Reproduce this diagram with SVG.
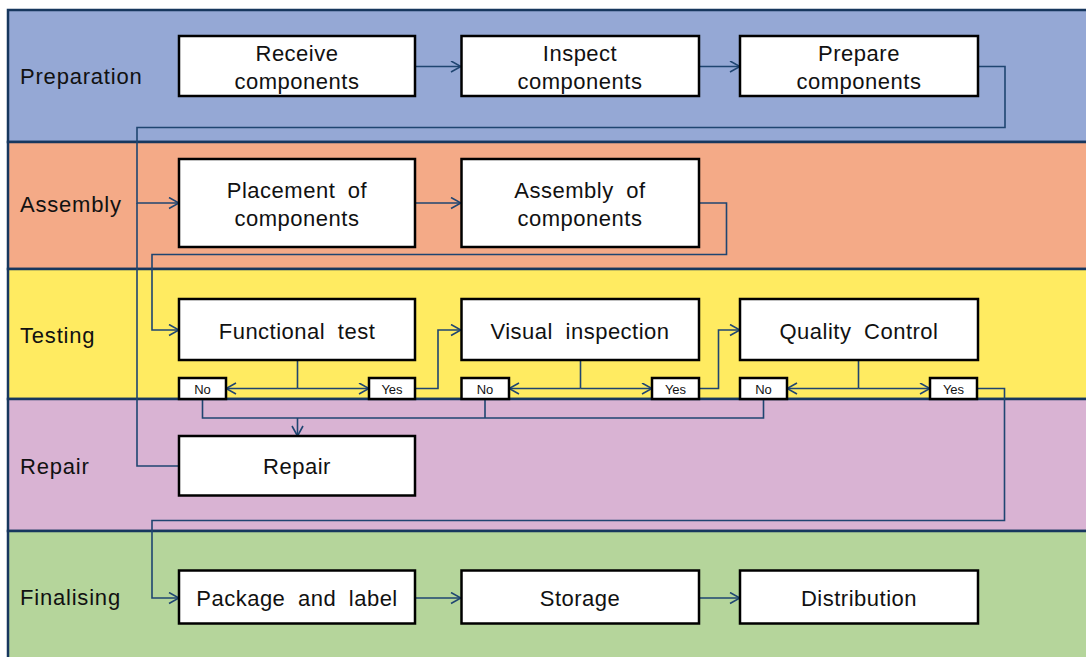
<svg xmlns="http://www.w3.org/2000/svg" width="1086" height="657" viewBox="0 0 1086 657">
  <style>
    .lane { stroke: #17375E; stroke-width: 2.5; }
    .lane-label { font-family: "Liberation Sans", Arial, sans-serif; font-size: 22px; letter-spacing: 0.8px; fill: #111; }
    .box { fill: #fff; stroke: #000; stroke-width: 2.5; }
    .box-text { font-family: "Liberation Sans", Arial, sans-serif; font-size: 22px; letter-spacing: 0.5px; fill: #111; text-anchor: middle; }
    .tag { fill: #fff; stroke: #000; stroke-width: 2.5; }
    .tag-text { font-family: "Liberation Sans", Arial, sans-serif; font-size: 13px; fill: #111; text-anchor: middle; }
    .conn { fill: none; stroke: #1F4571; stroke-width: 1.6; }
    .arrow { marker-end: url(#chev); }
  </style>
  <defs>
    <marker id="chev" markerUnits="userSpaceOnUse" markerWidth="12" markerHeight="13" refX="11" refY="6" orient="auto">
      <path d="M1,0.5 L11,6 L1,11.5" fill="none" stroke="#1F4571" stroke-width="1.6"/>
    </marker>
  </defs>

  <rect width="1086" height="657" fill="#fff"/>

  <!-- swimlanes -->
  <g id="lanes">
    <rect class="lane" x="8" y="10" width="1090" height="132" fill="#95A8D5"/>
    <rect class="lane" x="8" y="142" width="1090" height="127" fill="#F4AA87"/>
    <rect class="lane" x="8" y="269" width="1090" height="130" fill="#FFEB61"/>
    <rect class="lane" x="8" y="399" width="1090" height="132" fill="#D9B3D3"/>
    <rect class="lane" x="8" y="531" width="1090" height="140" fill="#B5D59B"/>
    <text class="lane-label" x="20" y="84">Preparation</text>
    <text class="lane-label" x="20" y="212">Assembly</text>
    <text class="lane-label" x="20" y="343">Testing</text>
    <text class="lane-label" x="20" y="474">Repair</text>
    <text class="lane-label" x="20" y="605">Finalising</text>
  </g>

  <!-- connectors -->
  <g id="connectors">
    <path class="conn arrow" d="M415,66.5 H461"/>
    <path class="conn arrow" d="M699,66.5 H740"/>
    <path class="conn arrow" d="M978,66.5 H1005 V127.5 H137 V203 H179"/>
    <path class="conn" d="M179,466 H137 V203"/>
    <path class="conn arrow" d="M415,203 H461"/>
    <path class="conn arrow" d="M699,203 H726.5 V254.5 H152 V330 H179"/>

    <path class="conn" d="M297.5,360 V388.5"/>
    <path class="conn arrow" d="M297.5,388.5 H226"/>
    <path class="conn arrow" d="M297.5,388.5 H369"/>
    <path class="conn arrow" d="M415,388.5 H438 V330 H461"/>

    <path class="conn" d="M580.5,360 V388.5"/>
    <path class="conn arrow" d="M580.5,388.5 H509"/>
    <path class="conn arrow" d="M580.5,388.5 H652"/>
    <path class="conn arrow" d="M699,388.5 H718.5 V330 H740"/>

    <path class="conn" d="M858.5,360 V388.5"/>
    <path class="conn arrow" d="M858.5,388.5 H787"/>
    <path class="conn arrow" d="M858.5,388.5 H930"/>
    <path class="conn arrow" d="M977,388.5 H1004.5 V520.5 H152 V598 H179"/>

    <path class="conn" d="M202.5,399 V418 H763.5 V399"/>
    <path class="conn" d="M485,399 V418"/>
    <path class="conn arrow" d="M297.5,418 V436"/>

    <path class="conn arrow" d="M415,598 H461"/>
    <path class="conn arrow" d="M699,598 H740"/>
  </g>

  <!-- preparation -->
  <g id="receive">
    <rect class="box" x="179" y="36" width="236" height="60"/>
    <text class="box-text" x="297" y="60.5">Receive</text>
    <text class="box-text" x="297" y="89">components</text>
  </g>
  <g id="inspect">
    <rect class="box" x="461.5" y="36" width="237.5" height="60"/>
    <text class="box-text" x="580" y="60.5">Inspect</text>
    <text class="box-text" x="580" y="89">components</text>
  </g>
  <g id="prepare">
    <rect class="box" x="740" y="36" width="238" height="60"/>
    <text class="box-text" x="859" y="60.5">Prepare</text>
    <text class="box-text" x="859" y="89">components</text>
  </g>

  <!-- assembly -->
  <g id="placement">
    <rect class="box" x="179" y="159" width="236" height="88"/>
    <text class="box-text" x="297" y="197.5" word-spacing="6">Placement of</text>
    <text class="box-text" x="297" y="226">components</text>
  </g>
  <g id="assembly">
    <rect class="box" x="461.5" y="159" width="237.5" height="88"/>
    <text class="box-text" x="580" y="197.5" word-spacing="6">Assembly of</text>
    <text class="box-text" x="580" y="226">components</text>
  </g>

  <!-- testing -->
  <g id="functional-test">
    <rect class="box" x="179" y="299" width="236" height="61"/>
    <text class="box-text" x="297" y="339" word-spacing="6">Functional test</text>
  </g>
  <g id="functional-no">
    <rect class="tag" x="179" y="378" width="47" height="21"/>
    <text class="tag-text" x="202.5" y="393.5">No</text>
  </g>
  <g id="functional-yes">
    <rect class="tag" x="369" y="378" width="46" height="21"/>
    <text class="tag-text" x="392" y="393.5">Yes</text>
  </g>

  <g id="visual-inspection">
    <rect class="box" x="461.5" y="299" width="237.5" height="61"/>
    <text class="box-text" x="580" y="339" word-spacing="6">Visual inspection</text>
  </g>
  <g id="visual-no">
    <rect class="tag" x="461.5" y="378" width="47.5" height="21"/>
    <text class="tag-text" x="485" y="393.5">No</text>
  </g>
  <g id="visual-yes">
    <rect class="tag" x="652" y="378" width="47" height="21"/>
    <text class="tag-text" x="675.5" y="393.5">Yes</text>
  </g>

  <g id="quality-control">
    <rect class="box" x="740" y="299" width="238" height="61"/>
    <text class="box-text" x="859" y="339" word-spacing="6">Quality Control</text>
  </g>
  <g id="quality-no">
    <rect class="tag" x="740" y="378" width="47" height="21"/>
    <text class="tag-text" x="763.5" y="393.5">No</text>
  </g>
  <g id="quality-yes">
    <rect class="tag" x="930" y="378" width="47" height="21"/>
    <text class="tag-text" x="953.5" y="393.5">Yes</text>
  </g>

  <!-- repair -->
  <g id="repair">
    <rect class="box" x="179" y="436" width="236" height="59.5"/>
    <text class="box-text" x="297" y="474">Repair</text>
  </g>

  <!-- finalising -->
  <g id="package">
    <rect class="box" x="179" y="570.5" width="236" height="53"/>
    <text class="box-text" x="297" y="606" word-spacing="6">Package and label</text>
  </g>
  <g id="storage">
    <rect class="box" x="461.5" y="570.5" width="237.5" height="53"/>
    <text class="box-text" x="580" y="606">Storage</text>
  </g>
  <g id="distribution">
    <rect class="box" x="740" y="570.5" width="238" height="53"/>
    <text class="box-text" x="859" y="606">Distribution</text>
  </g>
</svg>
